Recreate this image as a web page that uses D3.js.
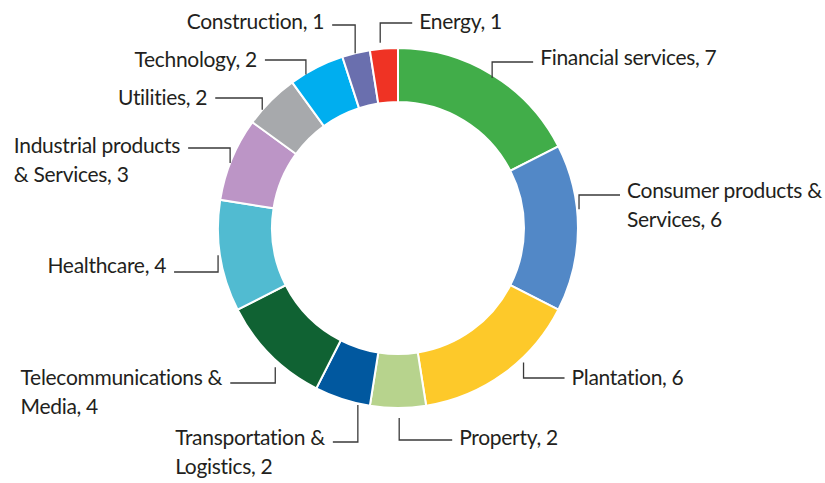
<!DOCTYPE html>
<html>
<head>
<meta charset="utf-8">
<script src="https://cdn.jsdelivr.net/npm/d3@7"></script>
<style>
  body { margin: 0; background: #fff; }
  text { font-family: Lato, "Liberation Sans", sans-serif; font-size: 21px; letter-spacing: -0.3px; fill: #231f20; }
</style>
</head>
<body>
<div id="chart-area"></div>
<script>
const categories = ["Financial services", "Consumer products & Services", "Plantation", "Property",
    "Transportation & Logistics", "Telecommunications & Media", "Healthcare",
    "Industrial products & Services", "Utilities", "Technology", "Construction", "Energy"];
const counts = [7, 6, 6, 2, 2, 4, 4, 3, 2, 2, 1, 1];
const labelLines = [["Financial services"], ["Consumer products &", "Services"], ["Plantation"], ["Property"],
    ["Transportation &", "Logistics"], ["Telecommunications &", "Media"], ["Healthcare"],
    ["Industrial products", "& Services"], ["Utilities"], ["Technology"], ["Construction"], ["Energy"]];
const colors = ["#41ad49", "#5288c7", "#fdc92a", "#b7d38d", "#01589f", "#106233",
    "#51bbd1", "#bc95c6", "#a7a9ac", "#00aeef", "#6a6fae", "#ef3324"];

// leader layout: t = position inside slice, dr = offset from ring edge,
// ey = elbow y, hx = horizontal leg, by = first baseline
const leaders = [
    {t: 0.51, dr: -2, ey: 62, hx: 41, by: 65},
    {t: 0.39, dr: 3, ey: 195, hx: 41, by: 198},
    {t: 0.37, dr: 5, ey: 378, hx: 41, by: 385},
    {t: 0.48, dr: 11, ey: 440, hx: 53, by: 445},
    {t: 0.21, dr: 2.5, ey: 442, hx: -25, by: 445},
    {t: 0.40, dr: 6.6, ey: 383, hx: -45, by: 385},
    {t: 0.51, dr: 3, ey: 272, hx: -44, by: 273},
    {t: 0.45, dr: 1, ey: 148, hx: -42, by: 153},
    {t: 0.28, dr: 1, ey: 98, hx: -47, by: 105},
    {t: 0.28, dr: 0, ey: 60, hx: -41, by: 67},
    {t: 0.47, dr: 1, ey: 25, hx: -23, by: 29},
    {t: 0.39, dr: 7, ey: 23, hx: 32, by: 29}
];

const width = 825, height = 483;
const cx = 398, cy = 228, outerR = 180, innerR = 126, ringR = 179;

const svg = d3.select("#chart-area")
    .append("svg")
    .attr("width", width)
    .attr("height", height);

const pie = d3.pie().value(d => d).sort(null);
const arc = d3.arc().innerRadius(innerR).outerRadius(outerR);
const arcs = pie(counts);

const g = svg.append("g").attr("transform", `translate(${cx}, ${cy})`);
g.selectAll("path")
    .data(arcs)
    .enter().append("path")
    .attr("d", arc)
    .attr("fill", (d, i) => colors[i])
    .attr("stroke", "#fff")
    .attr("stroke-width", 2);

const pt = (a, r) => [cx + r * Math.sin(a), cy - r * Math.cos(a)];

arcs.forEach((d, i) => {
    const L = leaders[i];
    const a = d.startAngle + L.t * (d.endAngle - d.startAngle);
    const [x0, y0] = pt(a, ringR + L.dr);
    const xe = x0 + L.hx;
    svg.append("path")
        .attr("d", `M${x0},${y0}V${L.ey}H${xe}`)
        .attr("fill", "none")
        .attr("stroke", "#3a3a3a")
        .attr("stroke-width", 1.3);

    const lines = labelLines[i].slice();
    lines[lines.length - 1] += ", " + counts[i];
    const txt = svg.append("text").attr("y", L.by);
    const spans = lines.map((s, k) => txt.append("tspan")
        .attr("dy", k === 0 ? 0 : 29)
        .text(s));
    let tx;
    if (L.hx > 0) {
        tx = xe + 7;
    } else {
        const w = spans[0].node().getComputedTextLength();
        tx = xe - 8 - w;
    }
    spans.forEach(s => s.attr("x", tx));
});
</script>
</body>
</html>
